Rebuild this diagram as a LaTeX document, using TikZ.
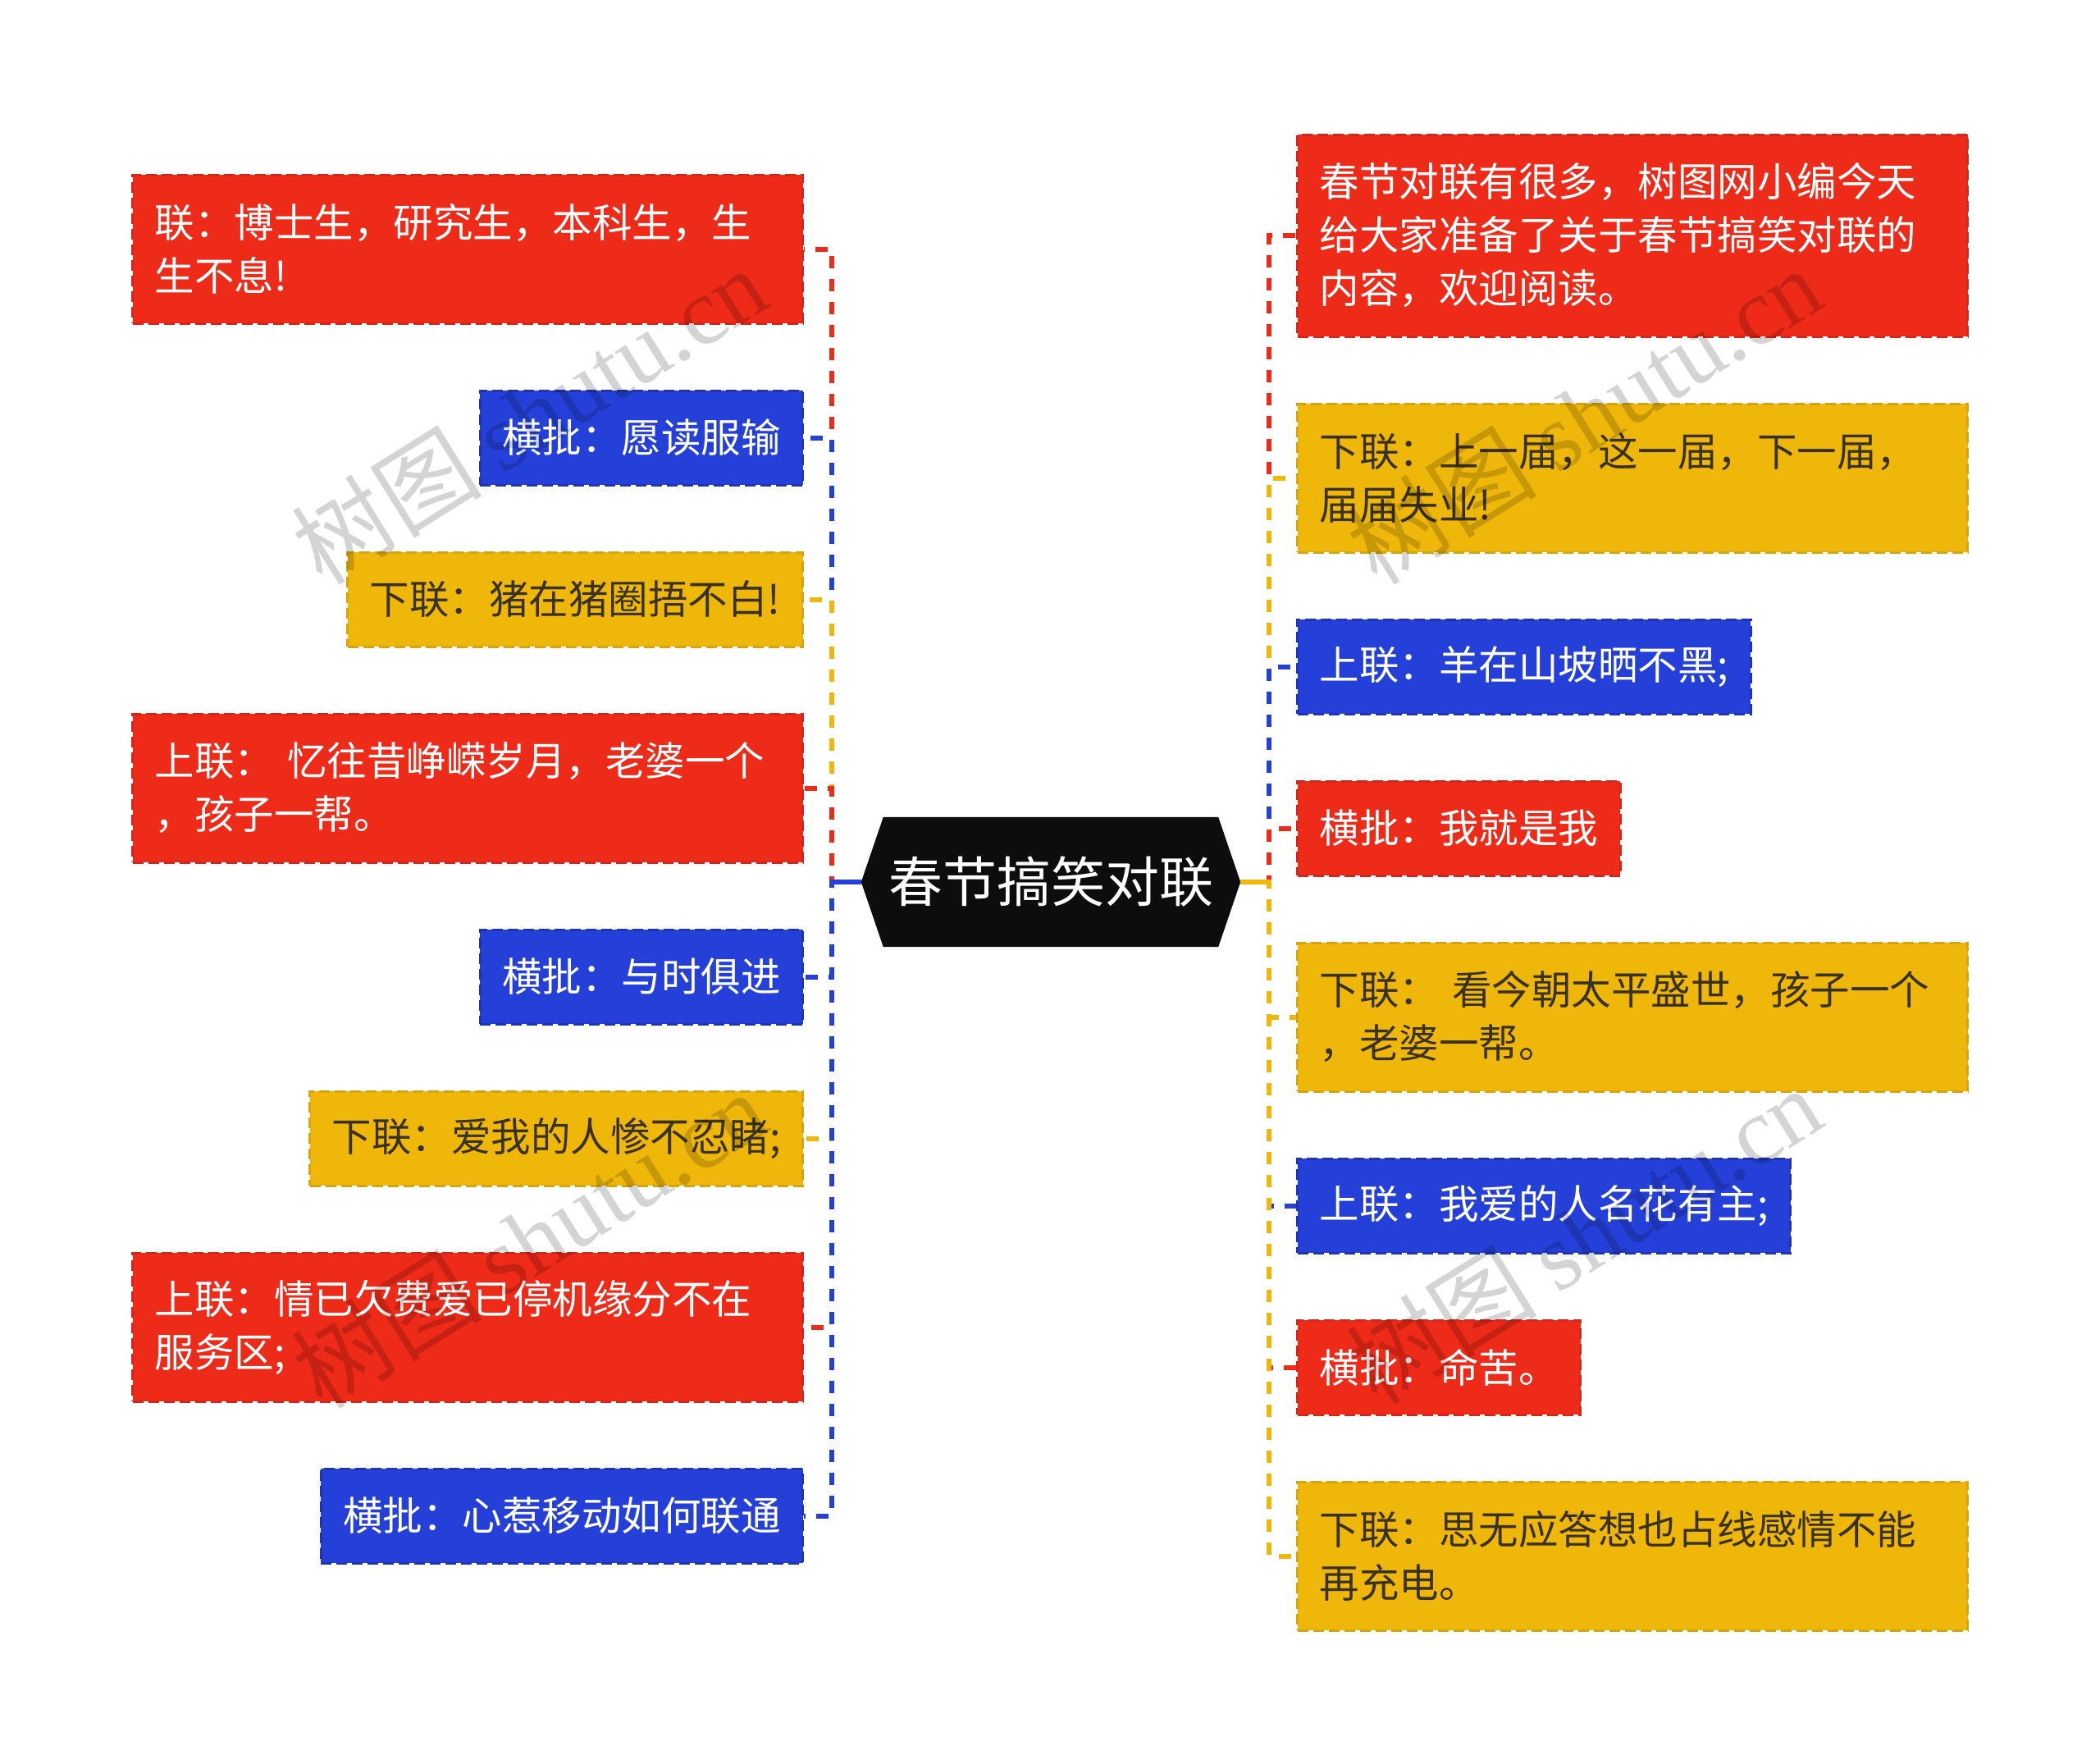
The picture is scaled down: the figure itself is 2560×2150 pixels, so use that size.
\documentclass[tikz,border=0pt]{standalone}
\usepackage{fontspec}
\setmainfont{Noto Sans CJK SC}
\newfontfamily\wmlatin{Liberation Serif}
\usetikzlibrary{backgrounds}
\definecolor{cred}{HTML}{EE2A18}
\definecolor{cblue}{HTML}{2440D8}
\definecolor{cyel}{HTML}{EFB70A}
\definecolor{bred}{HTML}{D4261A}
\definecolor{bblue}{HTML}{1E34B4}
\definecolor{byel}{HTML}{D6A40C}
\definecolor{ytext}{HTML}{3A3220}
\definecolor{hexfill}{HTML}{0D0D0D}
\tikzset{
  box/.style={rectangle, inner xsep=27pt, inner ysep=0pt,
    font=\fontsize{48.5}{65}\selectfont, align=left,
    line width=3pt, dash pattern=on 13pt off 6pt,
    preaction={draw=white, line width=3pt}},
  redbox/.style={box, fill=cred, draw=bred, text=white},
  bluebox/.style={box, fill=cblue, draw=bblue, text=white},
  yelbox/.style={box, fill=cyel, draw=byel, text=ytext},
  hone/.style={minimum height=115pt},
  htwo/.style={minimum height=181pt},
  hthree/.style={minimum height=246pt},
  wide/.style={text width=763pt},
  conn/.style={line width=6pt, dash pattern=on 15pt off 13pt},
  stub/.style={line width=6pt},
  wm/.style={rotate=32, font=\fontsize{116}{116}\selectfont, text=black, opacity=0.17, inner sep=0pt},
  hexnode/.style={rectangle, minimum width=462pt, minimum height=158pt, inner sep=0pt,
    font=\fontsize{66}{70}\selectfont, text=white}
}
\begin{document}
\begin{tikzpicture}[x=1pt, y=-1pt]
\useasboundingbox (0,0) rectangle (2560,2150);

% centre
\node[hexnode] (c) at (1281,1075) {春节搞笑对联};
\begin{scope}[on background layer]
\fill[white] (0,0) rectangle (2560,2150);
\fill[hexfill] (c.west) -- ([xshift=27pt]c.north west) -- ([xshift=-27pt]c.north east)
  -- (c.east) -- ([xshift=-27pt]c.south east) -- ([xshift=27pt]c.south west) -- cycle;
\end{scope}
\coordinate (tl) at (1014,1075);
\coordinate (tr) at (1547,1075);

% left column
\node[redbox, htwo, wide, anchor=east] (L1) at (980,303.5) {联：博士生，研究生，本科生，生\\生不息!};
\node[bluebox, hone, anchor=east] (L2) at (980,533.5) {横批：愿读服输};
\node[yelbox, hone, anchor=east] (L3) at (980,730.5) {下联：猪在猪圈捂不白!};
\node[redbox, htwo, wide, anchor=east] (L4) at (980,960.5) {上联： 忆往昔峥嵘岁月，老婆一个\\，孩子一帮。};
\node[bluebox, hone, anchor=east] (L5) at (980,1190.5) {横批：与时俱进};
\node[yelbox, hone, anchor=east] (L6) at (980,1387.5) {下联：爱我的人惨不忍睹;};
\node[redbox, htwo, wide, anchor=east] (L7) at (980,1617.5) {上联：情已欠费爱已停机缘分不在\\服务区;};
\node[bluebox, hone, anchor=east] (L8) at (980,1847.5) {横批：心惹移动如何联通};

% right column
\node[redbox, hthree, wide, anchor=west] (R1) at (1580,287) {春节对联有很多，树图网小编今天\\给大家准备了关于春节搞笑对联的\\内容，欢迎阅读。};
\node[yelbox, htwo, wide, anchor=west] (R2) at (1580,582.5) {下联：上一届，这一届，下一届，\\届届失业!};
\node[bluebox, hone, anchor=west] (R3) at (1580,812.5) {上联：羊在山坡晒不黑;};
\node[redbox, hone, anchor=west] (R4) at (1580,1009.5) {横批：我就是我};
\node[yelbox, htwo, wide, anchor=west] (R5) at (1580,1239.5) {下联： 看今朝太平盛世，孩子一个\\，老婆一帮。};
\node[bluebox, hone, anchor=west] (R6) at (1580,1469.5) {上联：我爱的人名花有主;};
\node[redbox, hone, anchor=west] (R7) at (1580,1666.5) {横批：命苦。};
\node[yelbox, htwo, wide, anchor=west] (R8) at (1580,1896.5) {下联：思无应答想也占线感情不能\\再充电。};

% connectors left
\draw[conn, cred]  (c.west) -- (tl) -- (tl |- L1.east) -- (L1.east);
\draw[conn, cblue] (c.west) -- (tl) -- (tl |- L2.east) -- (L2.east);
\draw[conn, cyel]  (c.west) -- (tl) -- (tl |- L3.east) -- (L3.east);
\draw[conn, cred]  (c.west) -- (tl) -- (tl |- L4.east) -- (L4.east);
\draw[conn, cblue] (c.west) -- (tl) -- (tl |- L5.east) -- (L5.east);
\draw[conn, cyel]  (c.west) -- (tl) -- (tl |- L6.east) -- (L6.east);
\draw[conn, cred]  (c.west) -- (tl) -- (tl |- L7.east) -- (L7.east);
\draw[conn, cblue] (c.west) -- (tl) -- (tl |- L8.east) -- (L8.east);
\draw[stub, cblue] (c.west) -- (tl);
% connectors right
\draw[conn, cred]  (c.east) -- (tr) -- (tr |- R1.west) -- (R1.west);
\draw[conn, cyel]  (c.east) -- (tr) -- (tr |- R2.west) -- (R2.west);
\draw[conn, cblue] (c.east) -- (tr) -- (tr |- R3.west) -- (R3.west);
\draw[conn, cred]  (c.east) -- (tr) -- (tr |- R4.west) -- (R4.west);
\draw[conn, cyel]  (c.east) -- (tr) -- (tr |- R5.west) -- (R5.west);
\draw[conn, cblue] (c.east) -- (tr) -- (tr |- R6.west) -- (R6.west);
\draw[conn, cred]  (c.east) -- (tr) -- (tr |- R7.west) -- (R7.west);
\draw[conn, cyel]  (c.east) -- (tr) -- (tr |- R8.west) -- (R8.west);
\draw[stub, cyel] (c.east) -- (tr);

% watermarks
\node[wm] (w1) at (645,506) {树图 {\wmlatin shutu.cn}};
\node[wm] (w2) at (1931,506) {树图 {\wmlatin shutu.cn}};
\node[wm] (w3) at (645,1510) {树图 {\wmlatin shutu.cn}};
\node[wm] (w4) at (1931,1505) {树图 {\wmlatin shutu.cn}};
\end{tikzpicture}
\end{document}
